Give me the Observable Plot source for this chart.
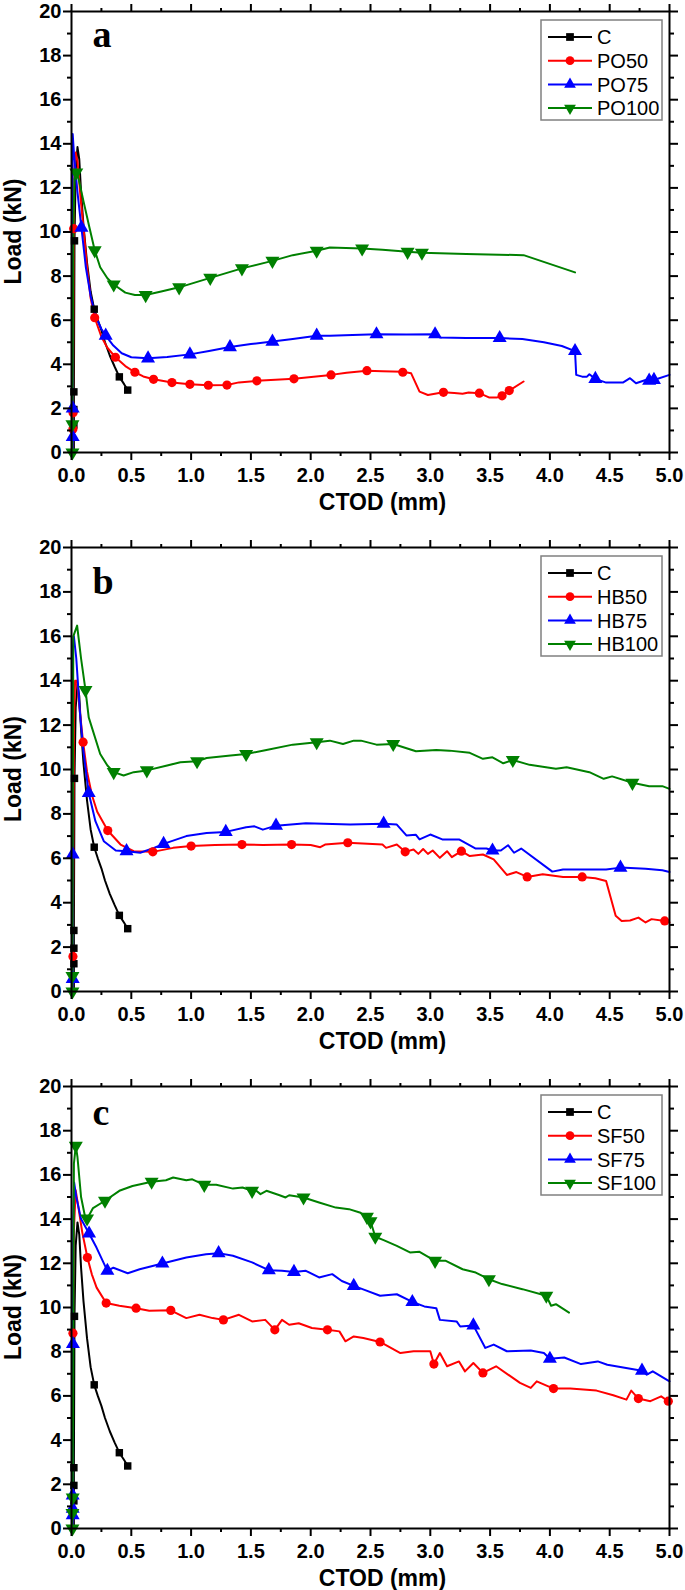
<!DOCTYPE html>
<html><head><meta charset="utf-8">
<script src="https://cdn.jsdelivr.net/npm/d3@7"></script>
<script src="https://cdn.jsdelivr.net/npm/@observablehq/plot@0.6"></script>
<style>
body{margin:0;background:#fff;width:685px;height:1590px;position:relative;overflow:hidden}
.panel{position:absolute;left:0;width:685px}
</style></head><body>
<div id="pa" class="panel" style="top:0px"></div>
<div id="pb" class="panel" style="top:536px"></div>
<div id="pc" class="panel" style="top:1075px"></div>
<script>
// ---------- tick values ----------
const xMajor = [0,0.5,1,1.5,2,2.5,3,3.5,4,4.5,5];
const xMinor = [0.25,0.75,1.25,1.75,2.25,2.75,3.25,3.75,4.25,4.75];
const yMajor = [0,2,4,6,8,10,12,14,16,18,20];
const yMinor = [1,3,5,7,9,11,13,15,17,19];

// ---------- control (same in all panels) ----------
const C_line = [[0.02,0],[0.02,1.25],[0.02,1.95],[0.02,2.75],[0.025,9.6],[0.035,12.8],[0.05,13.85],[0.065,13.3],[0.08,11.8],[0.1,10.3],[0.13,8.6],[0.16,7.3],[0.19,6.5],[0.22,6.0],[0.25,5.55],[0.28,5.0],[0.32,4.4],[0.36,3.9],[0.4,3.43],[0.44,3.1],[0.47,2.83]];
const C_marks = [[0.02,1.25],[0.02,1.95],[0.02,2.75],[0.025,9.6],[0.19,6.5],[0.4,3.43],[0.47,2.83]];

// ---------- panel a : PO ----------
const PO50_line = [[0.01,0],[0.012,1.07],[0.013,1.8],[0.018,10.15],[0.025,13.0],[0.035,13.6],[0.05,13.2],[0.08,11.3],[0.1,10.2],[0.13,8.4],[0.16,7.0],[0.194,6.11],[0.25,5.25],[0.3,4.75],[0.367,4.32],[0.45,3.92],[0.53,3.64],[0.6,3.45],[0.686,3.32],[0.84,3.17],[0.99,3.09],[1.144,3.05],[1.30,3.06],[1.4,3.18],[1.55,3.25],[1.86,3.34],[2.17,3.52],[2.3,3.62],[2.47,3.71],[2.6,3.68],[2.77,3.66],[2.84,3.59],[2.91,2.76],[2.98,2.61],[3.05,2.68],[3.11,2.73],[3.2,2.7],[3.27,2.66],[3.32,2.72],[3.41,2.69],[3.49,2.5],[3.56,2.5],[3.60,2.57],[3.66,2.81],[3.78,3.22]];
const PO50_marks = [[0.012,1.07],[0.013,1.8],[0.018,10.15],[0.194,6.11],[0.367,4.32],[0.53,3.64],[0.686,3.32],[0.84,3.17],[0.99,3.09],[1.144,3.05],[1.30,3.06],[1.55,3.25],[1.86,3.34],[2.17,3.52],[2.47,3.71],[2.77,3.64],[3.11,2.73],[3.41,2.69],[3.60,2.57],[3.66,2.81]];
const PO75_line = [[0.01,0],[0.01,0.7],[0.01,2.0],[0.008,14.0],[0.01,14.44],[0.02,13.6],[0.05,11.8],[0.083,10.2],[0.12,8.4],[0.16,7.1],[0.2,6.2],[0.25,5.6],[0.286,5.3],[0.35,4.85],[0.42,4.5],[0.5,4.32],[0.64,4.27],[0.8,4.33],[0.99,4.45],[1.15,4.6],[1.325,4.78],[1.5,4.92],[1.68,5.03],[1.85,5.15],[2.05,5.3],[2.16,5.3],[2.35,5.33],[2.55,5.36],[2.8,5.35],[3.04,5.36],[3.08,5.22],[3.3,5.19],[3.58,5.19],[3.77,5.15],[3.95,5.0],[4.1,4.83],[4.21,4.6],[4.22,3.52],[4.27,3.44],[4.31,3.44],[4.33,3.55],[4.38,3.34],[4.47,3.17],[4.61,3.17],[4.67,3.37],[4.72,3.14],[4.80,3.29],[4.87,3.29],[5.0,3.52]];
const PO75_marks = [[0.01,0.7],[0.01,2.0],[0.083,10.2],[0.286,5.3],[0.64,4.27],[0.99,4.45],[1.325,4.78],[1.68,5.03],[2.05,5.3],[2.55,5.36],[3.04,5.36],[3.58,5.19],[4.21,4.6],[4.38,3.34],[4.83,3.26],[4.87,3.29]];
const PO100_line = [[0.005,0],[0.008,1.28],[0.015,10],[0.025,12.4],[0.04,12.7],[0.06,12.4],[0.1,11.4],[0.15,10.2],[0.194,9.17],[0.24,8.4],[0.3,7.9],[0.353,7.62],[0.45,7.25],[0.53,7.14],[0.62,7.14],[0.75,7.3],[0.90,7.49],[1.16,7.92],[1.425,8.35],[1.68,8.69],[1.85,8.95],[2.05,9.15],[2.16,9.3],[2.43,9.25],[2.6,9.2],[2.81,9.1],[2.93,9.06],[3.3,9.0],[3.78,8.95],[4.21,8.17]];
const PO100_marks = [[0.008,0],[0.008,1.28],[0.04,12.7],[0.194,9.17],[0.353,7.62],[0.62,7.14],[0.90,7.49],[1.16,7.92],[1.425,8.35],[1.68,8.69],[2.05,9.15],[2.43,9.25],[2.81,9.1],[2.93,9.06]];

// ---------- panel b : HB ----------
const HB50_line = [[0.01,0],[0.012,1.58],[0.02,12],[0.03,14.0],[0.045,14.0],[0.07,12.6],[0.097,11.23],[0.13,9.9],[0.17,8.86],[0.215,8.1],[0.303,7.25],[0.41,6.62],[0.52,6.32],[0.68,6.29],[0.85,6.47],[1.0,6.55],[1.2,6.6],[1.425,6.62],[1.6,6.6],[1.84,6.62],[2.0,6.6],[2.08,6.5],[2.12,6.62],[2.31,6.7],[2.6,6.62],[2.63,6.47],[2.72,6.62],[2.79,6.29],[2.86,6.4],[2.90,6.2],[2.94,6.42],[2.98,6.2],[3.02,6.35],[3.08,6.02],[3.14,6.32],[3.18,6.05],[3.26,6.32],[3.33,6.1],[3.44,6.17],[3.53,5.95],[3.64,5.25],[3.72,5.38],[3.81,5.16],[3.94,5.28],[4.11,5.16],[4.27,5.16],[4.38,5.1],[4.47,4.98],[4.55,3.41],[4.6,3.18],[4.67,3.2],[4.74,3.33],[4.80,3.11],[4.85,3.26],[4.96,3.18],[5.0,3.11]];
const HB50_marks = [[0.012,1.58],[0.097,11.23],[0.303,7.25],[0.68,6.29],[1.0,6.55],[1.425,6.62],[1.84,6.62],[2.31,6.7],[2.79,6.29],[3.26,6.32],[3.81,5.16],[4.27,5.16],[4.96,3.18]];
const HB75_line = [[0.01,0],[0.01,0.57],[0.01,6.17],[0.012,15.5],[0.02,16.0],[0.04,15.0],[0.07,12.6],[0.1,10.8],[0.144,8.94],[0.2,7.67],[0.27,6.77],[0.37,6.35],[0.46,6.32],[0.575,6.25],[0.69,6.47],[0.77,6.65],[0.96,7.0],[1.13,7.14],[1.29,7.19],[1.46,7.4],[1.53,7.44],[1.60,7.29],[1.71,7.47],[1.96,7.58],[2.33,7.52],[2.61,7.56],[2.72,7.52],[2.80,7.03],[2.88,7.06],[2.91,6.85],[3.0,7.07],[3.1,6.85],[3.24,6.85],[3.38,6.44],[3.47,6.44],[3.52,6.35],[3.59,6.35],[3.65,6.59],[3.70,6.25],[3.76,6.44],[4.02,5.40],[4.11,5.5],[4.47,5.5],[4.59,5.58],[4.80,5.53],[4.94,5.46],[5.0,5.38]];
const HB75_marks = [[0.01,0.57],[0.01,6.17],[0.144,8.94],[0.46,6.32],[0.77,6.65],[1.29,7.19],[1.71,7.47],[2.61,7.56],[3.52,6.35],[4.59,5.58]];
const HB100_line = [[0.005,0],[0.008,0.7],[0.015,16.0],[0.047,16.48],[0.08,15.0],[0.117,13.58],[0.144,12.35],[0.24,10.7],[0.30,10.18],[0.353,9.88],[0.436,9.73],[0.52,9.88],[0.63,9.96],[0.80,10.18],[0.91,10.33],[1.05,10.37],[1.13,10.52],[1.33,10.63],[1.46,10.7],[1.63,10.88],[1.85,11.12],[2.05,11.23],[2.16,11.3],[2.27,11.15],[2.36,11.3],[2.42,11.3],[2.55,11.12],[2.69,11.15],[2.88,10.82],[3.05,10.88],[3.16,10.85],[3.33,10.75],[3.44,10.48],[3.52,10.55],[3.61,10.28],[3.69,10.43],[3.83,10.21],[4.05,10.03],[4.14,10.1],[4.33,9.88],[4.45,9.58],[4.52,9.69],[4.69,9.4],[4.83,9.25],[4.94,9.25],[5.0,9.13]];
const HB100_marks = [[0.008,0],[0.008,0.7],[0.117,13.58],[0.353,9.88],[0.63,9.96],[1.05,10.37],[1.46,10.7],[2.05,11.23],[2.69,11.15],[3.69,10.43],[4.69,9.4]];

// ---------- panel c : SF ----------
const SF50_line = [[0.01,0],[0.012,8.84],[0.02,13.5],[0.035,15.3],[0.05,14.8],[0.09,13.4],[0.133,12.26],[0.17,11.5],[0.21,10.9],[0.29,10.2],[0.40,10.08],[0.54,9.97],[0.65,9.85],[0.83,9.87],[0.96,9.52],[1.07,9.67],[1.18,9.52],[1.27,9.44],[1.40,9.67],[1.51,9.37],[1.62,9.44],[1.70,8.99],[1.76,9.44],[1.82,9.22],[1.90,9.29],[2.01,9.07],[2.14,8.99],[2.24,8.92],[2.29,8.47],[2.36,8.69],[2.44,8.62],[2.58,8.44],[2.75,7.94],[2.86,8.02],[3.0,8.02],[3.03,7.44],[3.08,7.94],[3.14,7.34],[3.24,7.56],[3.29,7.11],[3.36,7.49],[3.44,7.04],[3.55,7.34],[3.75,6.59],[3.84,6.36],[3.89,6.66],[4.03,6.33],[4.17,6.33],[4.39,6.24],[4.53,6.03],[4.64,5.83],[4.68,6.24],[4.74,5.88],[4.84,5.76],[4.93,5.98],[4.99,5.76]];
const SF50_marks = [[0.012,8.84],[0.133,12.26],[0.29,10.2],[0.54,9.97],[0.83,9.87],[1.27,9.44],[1.70,8.99],[2.14,8.99],[2.58,8.44],[3.03,7.44],[3.44,7.04],[4.03,6.33],[4.74,5.88],[4.99,5.76]];
const SF75_line = [[0.01,0],[0.01,0.6],[0.01,1.5],[0.012,8.35],[0.015,14],[0.022,15.66],[0.04,15.0],[0.08,14.0],[0.147,13.35],[0.21,12.7],[0.30,11.66],[0.35,11.8],[0.47,11.55],[0.57,11.73],[0.76,11.99],[0.96,12.26],[1.125,12.41],[1.23,12.46],[1.35,12.34],[1.51,12.04],[1.65,11.69],[1.76,11.66],[1.86,11.61],[1.96,11.66],[2.07,11.36],[2.18,11.51],[2.26,11.2],[2.36,10.98],[2.45,10.8],[2.58,10.53],[2.72,10.6],[2.85,10.25],[2.95,10.05],[3.05,9.97],[3.08,9.44],[3.22,9.37],[3.25,9.14],[3.36,9.19],[3.46,8.17],[3.53,8.32],[3.64,8.02],[3.84,8.05],[3.95,7.94],[4.0,7.68],[4.12,7.74],[4.26,7.44],[4.4,7.56],[4.48,7.41],[4.77,7.14],[4.81,6.96],[4.86,7.11],[5.0,6.66]];
const SF75_marks = [[0.01,0.6],[0.01,0.9],[0.01,1.5],[0.012,8.35],[0.147,13.35],[0.30,11.66],[0.76,11.99],[1.23,12.46],[1.65,11.69],[1.86,11.61],[2.36,10.98],[2.85,10.25],[3.36,9.19],[4.0,7.68],[4.77,7.14]];
const SF100_line = [[0.005,0],[0.008,0.7],[0.01,1.4],[0.02,16.5],[0.036,17.32],[0.05,16.8],[0.08,15.0],[0.11,14.2],[0.13,14.0],[0.18,14.5],[0.28,14.83],[0.40,15.28],[0.51,15.5],[0.67,15.69],[0.79,15.76],[0.85,15.88],[0.96,15.76],[1.01,15.8],[1.11,15.55],[1.21,15.55],[1.35,15.38],[1.43,15.43],[1.51,15.28],[1.54,15.31],[1.58,15.13],[1.63,15.28],[1.74,15.08],[1.79,14.98],[1.82,15.08],[1.94,14.98],[2.07,14.75],[2.21,14.52],[2.32,14.45],[2.41,14.3],[2.47,14.1],[2.50,13.9],[2.54,13.2],[2.61,13.05],[2.72,12.79],[2.83,12.49],[2.91,12.52],[3.04,12.11],[3.13,12.11],[3.27,11.73],[3.38,11.58],[3.49,11.28],[3.60,11.06],[3.77,10.83],[3.97,10.53],[4.01,10.08],[4.05,10.15],[4.16,9.77]];
const SF100_marks = [[0.008,0],[0.008,0.7],[0.01,1.4],[0.036,17.32],[0.13,14.03],[0.28,14.83],[0.67,15.69],[1.11,15.55],[1.51,15.28],[1.94,14.98],[2.47,14.1],[2.50,13.9],[2.54,13.2],[3.04,12.11],[3.49,11.28],[3.97,10.53]];

// ---------- series styling ----------
const colors = ["#000000","#ff0000","#0000ff","#008000"];
const symbols = ["square","circle","triangle","triangle"];
const rotations = [0,0,0,180];
const radii = [4.2,4.6,5.2,5.2];
const legendSym = [d3.symbolSquare, d3.symbolCircle, d3.symbolTriangle, d3.symbolTriangle];

const panels = [
  {el:"#pa", letter:"a", letterDy:9, height:536, mb:84, names:["C","PO50","PO75","PO100"],
   lines:[C_line,PO50_line,PO75_line,PO100_line], marks:[C_marks,PO50_marks,PO75_marks,PO100_marks]},
  {el:"#pb", letter:"b", letterDy:20, height:539, mb:84, names:["C","HB50","HB75","HB100"],
   lines:[C_line,HB50_line,HB75_line,HB100_line], marks:[C_marks,HB50_marks,HB75_marks,HB100_marks]},
  {el:"#pc", letter:"c", letterDy:12, height:515, mb:62, names:["C","SF50","SF75","SF100"],
   lines:[C_line,SF50_line,SF75_line,SF100_line], marks:[C_marks,SF50_marks,SF75_marks,SF100_marks]}
];

const ML = 71, MR = 16, MT = 11;
const sans = "'Liberation Sans', Arial, sans-serif";
const xLabel = "CTOD (mm)";
const yLabel = "Load (kN)";

panels.forEach(p => {
  const seriesMarks = [];
  p.lines.forEach((ln, i) => {
    seriesMarks.push(Plot.line(ln, {x: d => d[0], y: d => d[1], stroke: colors[i], strokeWidth: 2}));
  });
  p.marks.forEach((mk, i) => {
    seriesMarks.push(Plot.dot(mk, {x: d => d[0], y: d => d[1], fill: colors[i], stroke: "none",
      symbol: symbols[i], r: radii[i], rotate: rotations[i]}));
  });
  const svg = Plot.plot({
    width: 685, height: p.height,
    marginLeft: ML, marginRight: MR, marginTop: MT, marginBottom: p.mb,
    style: {fontFamily: sans, fontWeight: "bold", background: "white", color: "black", fontSize: "20px"},
    x: {domain: [0, 5]},
    y: {domain: [0, 20]},
    marks: [
      ...seriesMarks,
      Plot.axisX({anchor: "bottom", ticks: xMajor, tickSize: 8, tickPadding: 7, strokeWidth: 2, fontSize: 20, fontWeight: "bold", fontFamily: sans, tickFormat: d => d.toFixed(1), label: null}),
      Plot.axisX({anchor: "bottom", ticks: xMinor, tickSize: 4, strokeWidth: 2, text: null, label: null}),
      Plot.axisX({anchor: "top", ticks: xMajor, tickSize: 8, strokeWidth: 2, text: null, label: null}),
      Plot.axisX({anchor: "top", ticks: xMinor, tickSize: 4, strokeWidth: 2, text: null, label: null}),
      Plot.axisY({anchor: "left", ticks: yMajor, tickSize: 8, tickPadding: 2, strokeWidth: 2, fontSize: 20, fontWeight: "bold", fontFamily: sans, tickFormat: d => String(d), label: null}),
      Plot.axisY({anchor: "left", ticks: yMinor, tickSize: 4, strokeWidth: 2, text: null, label: null}),
      Plot.axisY({anchor: "right", ticks: yMajor, tickSize: 8, strokeWidth: 2, text: null, label: null}),
      Plot.axisY({anchor: "right", ticks: yMinor, tickSize: 4, strokeWidth: 2, text: null, label: null}),
      Plot.frame({stroke: "black", strokeWidth: 2}),
      Plot.text([xLabel], {frameAnchor: "bottom", textAnchor: "middle", lineAnchor: "middle", dx: 12, dy: 50, fontSize: 23, fontWeight: "bold", fontFamily: sans}),
      Plot.text([p.letter], {frameAnchor: "top-left", dx: 21, dy: p.letterDy, textAnchor: "start", fontSize: 38,
        fontFamily: "'Liberation Serif', 'Times New Roman', serif", fontWeight: "bold"})
    ]
  });
  document.querySelector(p.el).appendChild(svg);
  const root = d3.select(svg);
  // rotated y-axis title, centred on the frame's vertical middle (measured, start-anchored)
  const midY = MT + (p.height - MT - p.mb) / 2;
  const t = root.append("text")
    .attr("text-anchor", "start").attr("dy", "0.35em")
    .attr("font-family", sans).attr("font-weight", "bold").style("font-size", "23px")
    .attr("fill", "black").text(yLabel);
  const len = t.node().getComputedTextLength() || 106;
  t.attr("transform", `translate(13,${midY + len / 2}) rotate(-90)`);
  // legend box inside the frame (top-right)
  const bx = 685 - MR - 128, by = MT + 9;
  const g = root.append("g")
    .attr("font-family", sans).attr("font-weight", "normal").attr("text-anchor", "start");
  g.append("rect").attr("x", bx).attr("y", by).attr("width", 121).attr("height", 100)
    .attr("fill", "white").attr("stroke", "#808080").attr("stroke-width", 1.5);
  p.names.forEach((n, i) => {
    const cy = by + 17 + i * 23.7;
    g.append("line").attr("x1", bx + 7).attr("x2", bx + 51).attr("y1", cy).attr("y2", cy)
      .attr("stroke", colors[i]).attr("stroke-width", 2);
    g.append("path").attr("d", d3.symbol(legendSym[i], 60)())
      .attr("transform", `translate(${bx + 29},${cy}) rotate(${rotations[i]})`).attr("fill", colors[i]);
    g.append("text").attr("x", bx + 56).attr("y", cy).attr("dy", "0.36em")
      .attr("text-anchor", "start").style("font-size", "20px").style("font-weight", "normal")
      .attr("fill", "black").text(n);
  });
});
</script>
</body></html>
